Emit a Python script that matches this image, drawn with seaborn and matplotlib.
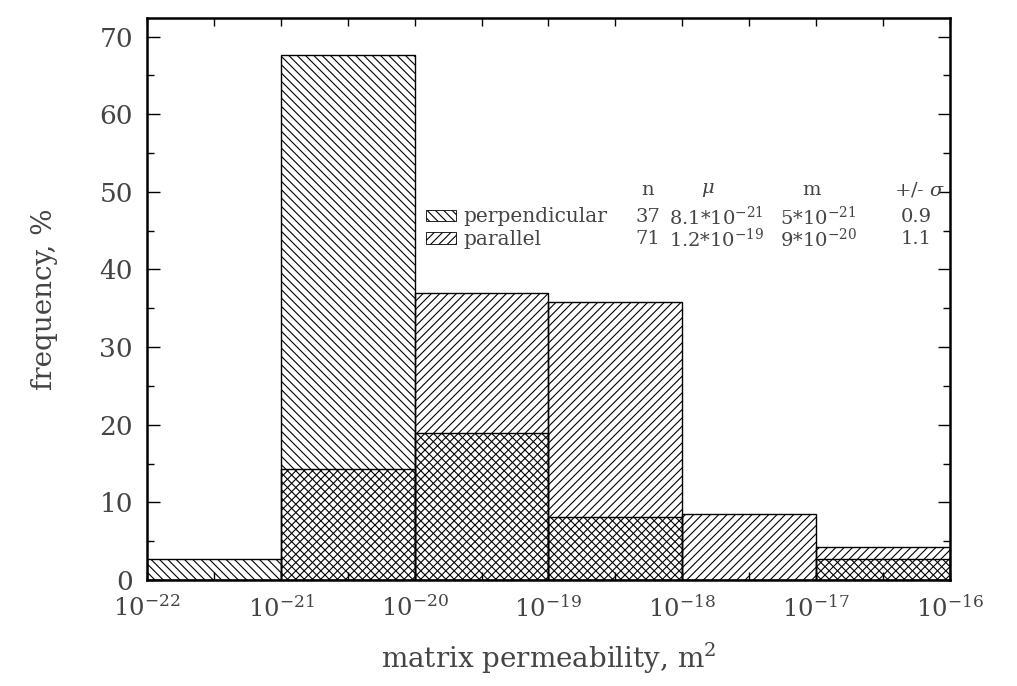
import numpy as np
import matplotlib
matplotlib.use("Agg")
import matplotlib.pyplot as plt
from matplotlib.patches import Patch
from matplotlib.ticker import FixedLocator, NullFormatter
import seaborn as sns

# Decade bins of matrix permeability (log10 of m^2)
bin_edges_log = [-22, -21, -20, -19, -18, -17, -16]
perpendicular = [2.7, 67.6, 18.9, 8.1, 0.0, 2.7]   # frequency, %
parallel = [0.0, 14.3, 37.0, 35.8, 8.5, 4.2]        # frequency, %

# Summary table shown next to the legend
table_header = ["n", r"$\mu$", "m", r"+/- $\sigma$"]
perp_stats = ["37", r"8.1*10$^{-21}$", r"5*10$^{-21}$", "0.9"]
para_stats = ["71", r"1.2*10$^{-19}$", r"9*10$^{-20}$", "1.1"]

sns.set_style("ticks")
plt.rcParams["font.family"] = ["DejaVu Serif"]
plt.rcParams["mathtext.fontset"] = "dejavuserif"
plt.rcParams["hatch.linewidth"] = 0.8
text_color = "#444444"

fig = plt.figure(figsize=(10.17, 6.86), dpi=100)
ax = fig.add_axes([0.1445, 0.1545, 0.7895, 0.8193])

centers = [10 ** (e + 0.5) for e in bin_edges_log[:-1]]

n_before = len(ax.patches)
sns.histplot(x=centers, weights=perpendicular, bins=bin_edges_log, log_scale=True,
             fill=False, color="black", linewidth=1.0, ax=ax)
for p in ax.patches[n_before:]:
    p.set_hatch("\\\\\\\\")

n_before = len(ax.patches)
sns.histplot(x=centers, weights=parallel, bins=bin_edges_log, log_scale=True,
             fill=False, color="black", linewidth=1.0, ax=ax)
for p in ax.patches[n_before:]:
    p.set_hatch("////")

ax.set_xlim(1e-22, 1e-16)
ax.set_ylim(0, 72.4)

ax.set_xticks([10.0 ** e for e in bin_edges_log])
ax.set_xticklabels([r"$10^{%d}$" % e for e in bin_edges_log])
ax.xaxis.set_minor_locator(FixedLocator([10 ** (e + 0.5) for e in bin_edges_log[:-1]]))
ax.xaxis.set_minor_formatter(NullFormatter())
ax.set_yticks(np.arange(0, 71, 10))
ax.yaxis.set_minor_locator(FixedLocator(np.arange(5, 71, 10)))

ax.tick_params(axis="both", which="both", direction="in", top=True, right=True,
               colors="black", labelcolor=text_color)
ax.tick_params(axis="y", which="major", length=9, width=1.0, labelsize=19, pad=10)
ax.tick_params(axis="x", which="major", length=6, width=1.0, labelsize=17.5, pad=11)
ax.tick_params(axis="y", which="minor", length=5, width=1.0)
ax.tick_params(axis="x", which="minor", length=6, width=1.0)

for s in ax.spines.values():
    s.set_linewidth(1.8)
    s.set_color("black")

ax.set_xlabel(r"matrix permeability, m$^2$", fontsize=20, color=text_color, labelpad=14)
ax.set_ylabel("frequency, %", fontsize=20, color=text_color, labelpad=30)

# Legend swatches with labels
handles = [Patch(facecolor="none", edgecolor="black", hatch="\\\\\\\\", linewidth=0.6),
           Patch(facecolor="none", edgecolor="black", hatch="////", linewidth=0.6)]
ax.legend(handles, ["perpendicular", "parallel"], loc="upper left",
          bbox_to_anchor=(0.33, 0.688), frameon=False, fontsize=14.5,
          handlelength=1.5, handleheight=0.5, handletextpad=0.35,
          labelspacing=0.18, borderpad=0.2, labelcolor=text_color)

# Statistics columns
header_x = [0.624, 0.699, 0.828, 0.963]
col_x = [0.624, 0.709, 0.836, 0.958]
for x, t in zip(header_x, table_header):
    ax.text(x, 0.694, t, transform=ax.transAxes, ha="center", va="center",
            fontsize=14, color=text_color)
for y, row in zip([0.645, 0.606], [perp_stats, para_stats]):
    for x, t in zip(col_x, row):
        ax.text(x, y, t, transform=ax.transAxes, ha="center", va="center",
                fontsize=14, color=text_color)

fig.savefig("out.png", dpi=100)
